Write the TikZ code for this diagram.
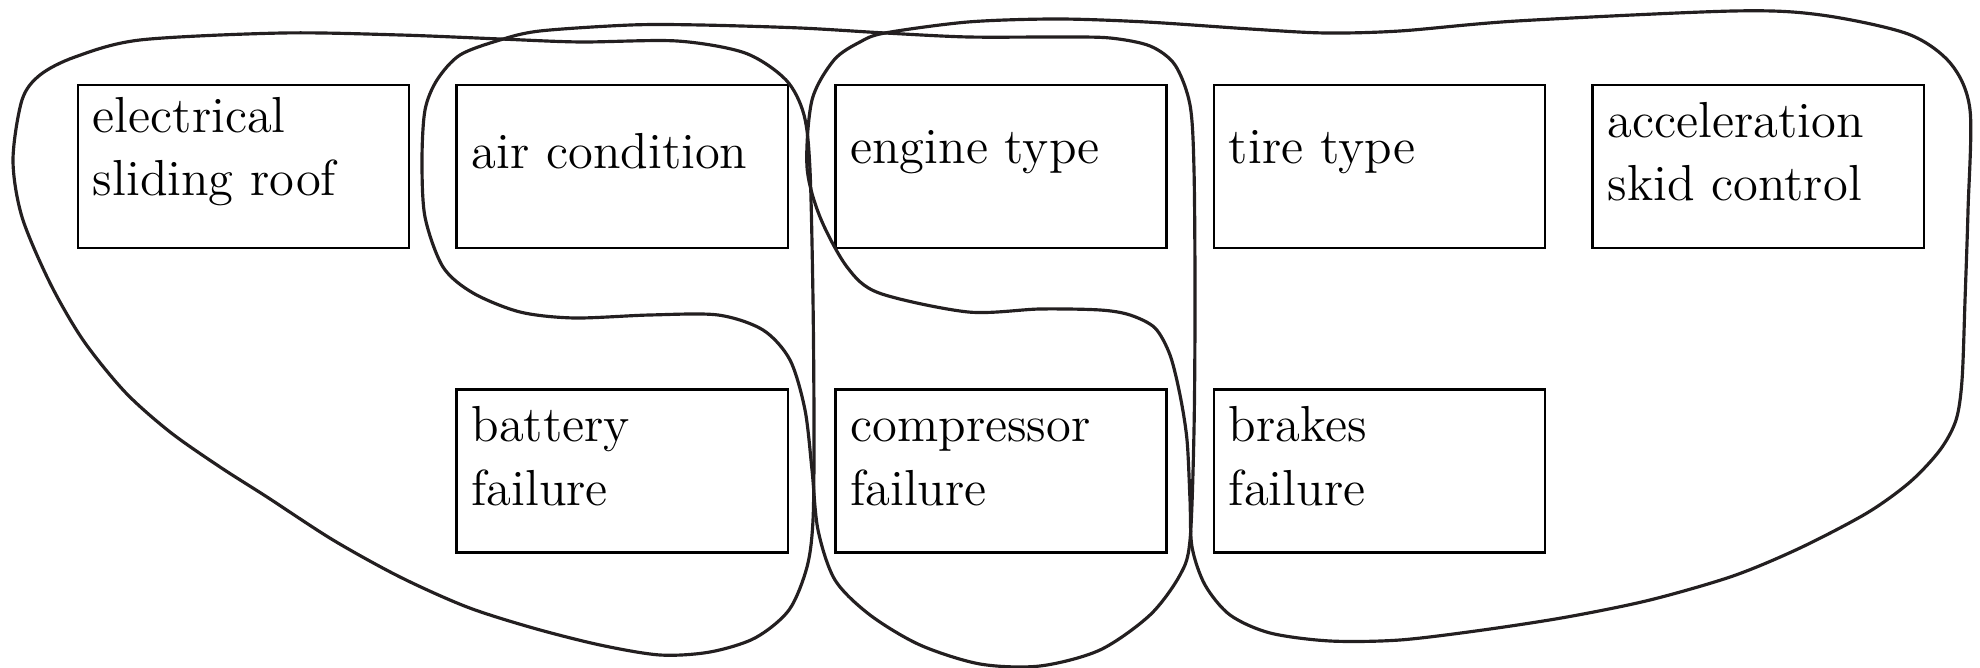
\documentclass[tikz,border=0pt]{standalone}
\definecolor{Hull}{RGB}{35,31,32}
\usetikzlibrary{positioning}

\begin{document}
\begin{tikzpicture}[node distance=1.39cm and 0.45cm,x=0.01cm,y=-0.01cm,
  feat/.style={draw,line width=0.7pt,minimum width=3.31cm,minimum height=1.63cm,text width=3.01cm,inner xsep=0.15cm,align=left,text height=1.5pt,font=\Large},
  hull/.style={draw=Hull,line width=0.9pt}]
  \useasboundingbox (0,0) rectangle (1980,668);
  \node[feat] (roof) at (243.5,166.5) {electrical\\sliding roof};
  \node[feat,right=of roof] (aircon) {air condition};
  \node[feat,right=of aircon] (engine) {engine type};
  \node[feat,right=of engine] (tire) {tire type};
  \node[feat,right=of tire] (skid) {acceleration\\skid control};
  \node[feat,below=of aircon] (battery) {battery\\failure};
  \node[feat,below=of engine] (compressor) {compressor\\failure};
  \node[feat,below=of tire] (brakes) {brakes\\failure};
  \draw[hull] plot[smooth cycle] coordinates {(13,160) (22,100) (40,75) (75,57) (140,40) (283,33) (400,35) (500,39) (580,42) (677,41) (745,53) (786,80) (804,115) (810,170) (813,300) (814,430) (813,520) (807,567) (789,610) (755,638) (710,652) (660,655) (600,645) (533,628) (467,607) (400,577) (333,540) (267,497) (220,467) (170,432) (125,392) (83,340) (50,283) (22,217)};
  \draw[hull] plot[smooth cycle] coordinates {(437,80) (460,55) (500,40) (540,31) (631,25) (700,25) (800,28) (885,33) (968,37) (1060,37) (1110,38) (1150,46) (1175,65) (1190,105) (1194,170) (1195,300) (1194,430) (1190,540) (1180,575) (1150,615) (1100,650) (1040,666) (980,664) (920,645) (870,615) (835,580) (818,530) (812,470) (805,410) (790,360) (763,330) (718,315) (650,315) (574,318) (520,312) (473,293) (443,267) (425,217) (422,160) (425,110)};
  \draw[hull] plot[smooth cycle] coordinates {(834,60) (860,42) (885,33) (968,22) (1057,19) (1146,22) (1250,29) (1325,33) (1400,31) (1517,21) (1734,11) (1821,15) (1908,34) (1951,64) (1970,110) (1968,210) (1965,300) (1962,380) (1956,420) (1940,450) (1910,482) (1867,513) (1800,548) (1733,576) (1650,600) (1567,617) (1483,630) (1400,640) (1330,641) (1270,633) (1230,615) (1205,585) (1192,547) (1190,500) (1187,440) (1180,395) (1170,355) (1155,328) (1130,315) (1100,310) (1040,309) (968,312) (879,293) (847,267) (820,217) (807,167) (812,100)};
\end{tikzpicture}
\end{document}
